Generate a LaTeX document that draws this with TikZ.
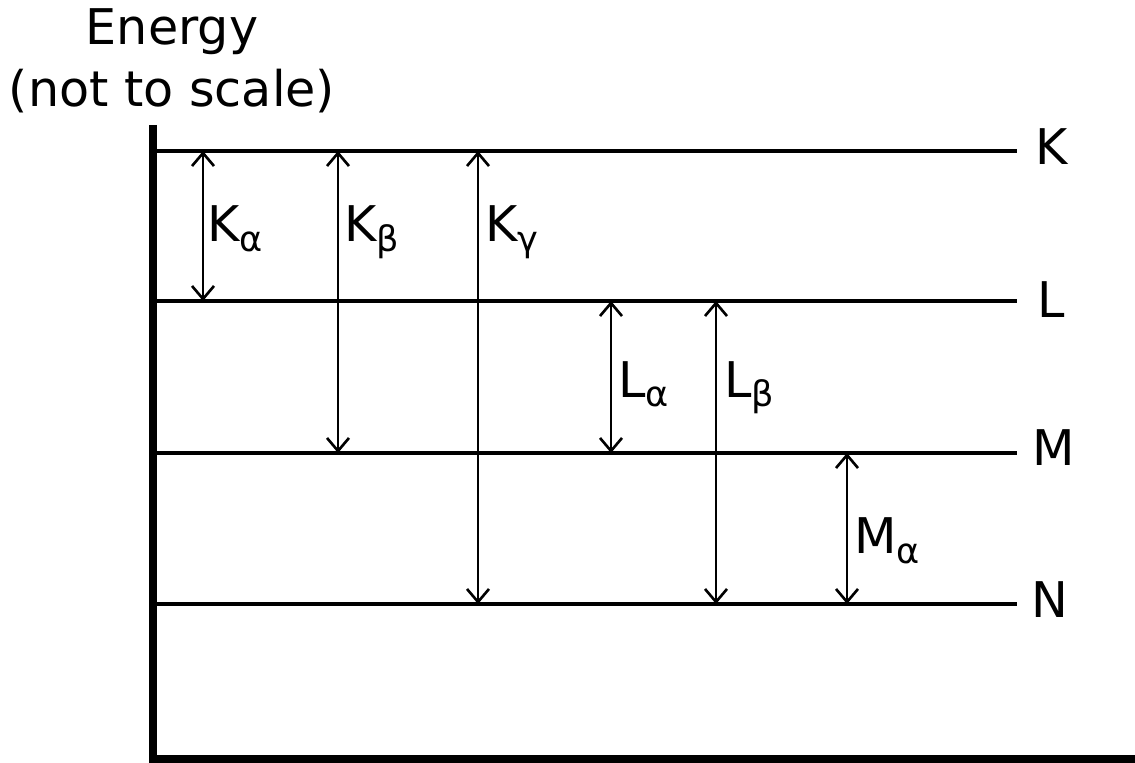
\documentclass[tikz,border=0pt]{standalone}
\usepackage{fontspec}
\setmainfont{DejaVu Sans}
\usetikzlibrary{arrows.meta,positioning}

\newcommand{\trsub}[1]{\raisebox{-0.2cm}{\fontsize{20}{20}\selectfont #1}}

\begin{document}
\begin{tikzpicture}[x=0.02cm,y=-0.02cm,
every node/.style={inner sep=0pt, font=\fontsize{28}{35}\selectfont},
level/.style={line width=2.1pt},
trans/.style={line width=1.5pt,
  {Straight Barb[length=2.6mm,width=4.4mm]}-{Straight Barb[length=2.6mm,width=4.4mm]}}]
\useasboundingbox (0,0) rectangle (1135,763);
% axis
\draw[line width=4pt] (153,125) -- (153,759) -- (1135,759);
\node[anchor=base] (energy) at (172,45) {Energy};
\node[anchor=base] (scale) at (172,107) {(not to scale)};
% levels
\coordinate (K0) at (156,151);
\coordinate (L0) at (156,301);
\coordinate (M0) at (156,453);
\coordinate (N0) at (156,604);
\coordinate (K1) at (1017,151);
\coordinate (L1) at (1017,301);
\coordinate (M1) at (1017,453);
\coordinate (N1) at (1017,604);
\draw[level] (K0)--(K1);
\draw[level] (L0)--(L1);
\draw[level] (M0)--(M1);
\draw[level] (N0)--(N1);
\node[anchor=base west] (K) at (1035,165) {K};
\node[anchor=base west] (L) at (1037,317) {L};
\node[anchor=base west] (M) at (1032,465) {M};
\node[anchor=base west] (N) at (1031,617) {N};
% transitions
\coordinate (ka) at (203,151);
\coordinate (kb) at (338,151);
\coordinate (kg) at (478,151);
\coordinate (la) at (611,301);
\coordinate (lb) at (716,301);
\coordinate (ma) at (847,453);
\draw[trans] (ka)--(ka |- L0);
\draw[trans] (kb)--(kb |- M0);
\draw[trans] (kg)--(kg |- N0);
\draw[trans] (la)--(la |- M0);
\draw[trans] (lb)--(lb |- N0);
\draw[trans] (ma)--(ma |- N0);
\node[anchor=base west] (Ka) at (207,242) {K\trsub{α}};
\node[anchor=base west] (Kb) at (344,242) {K\trsub{β}};
\node[anchor=base west] (Kg) at (485,242) {K\trsub{γ}};
\node[anchor=base west] (La) at (618,397) {L\trsub{α}};
\node[anchor=base west] (Lb) at (724,397) {L\trsub{β}};
\node[anchor=base west] (Ma) at (854,553) {M\trsub{α}};
\end{tikzpicture}
\end{document}
